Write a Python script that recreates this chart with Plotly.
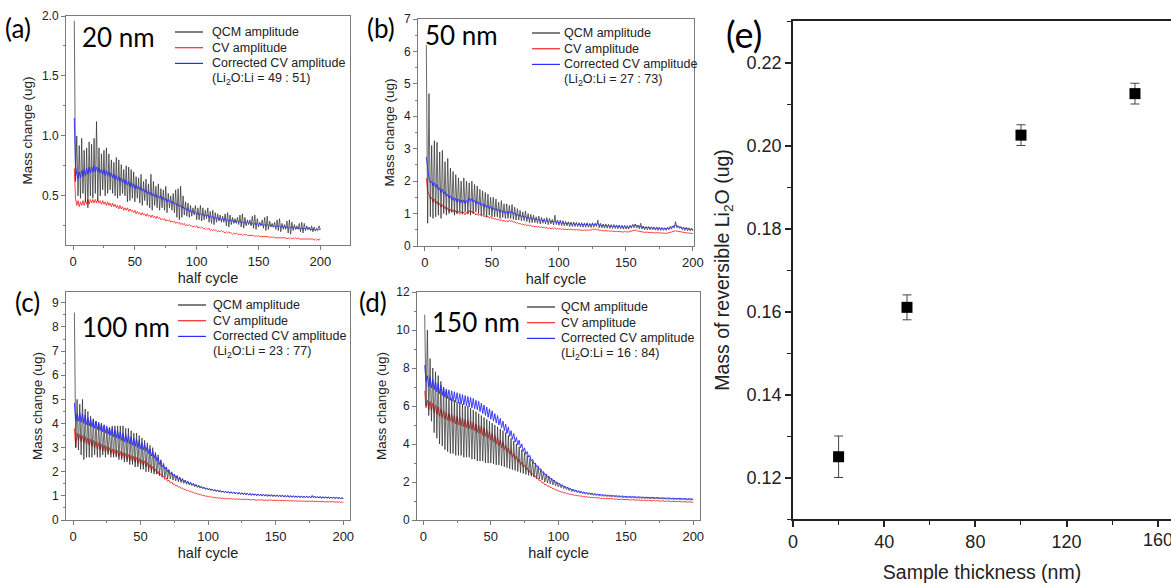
import plotly.graph_objects as go

# ---------------- data ----------------
half_cycle = list(range(1, 201))

qcm_a = [1.96,0.62,1.0,0.5,0.92,0.48,0.98,0.52,0.88,0.45,
0.9,0.4,0.95,0.5,0.93,0.48,0.98,0.52,1.12,0.46,
0.9,0.5,0.85,0.55,0.88,0.5,0.9,0.52,0.85,0.55,
0.8,0.52,0.78,0.5,0.82,0.48,0.8,0.5,0.76,0.52,
0.72,0.5,0.75,0.45,0.74,0.46,0.72,0.48,0.7,0.45,
0.66,0.48,0.65,0.44,0.68,0.42,0.62,0.46,0.64,0.42,
0.6,0.4,0.68,0.38,0.62,0.42,0.58,0.4,0.6,0.38,
0.56,0.4,0.55,0.38,0.58,0.36,0.52,0.4,0.5,0.38,
0.52,0.36,0.55,0.32,0.56,0.3,0.58,0.32,0.5,0.34,
0.45,0.33,0.44,0.32,0.42,0.33,0.4,0.34,0.42,0.3,
0.4,0.3,0.42,0.29,0.4,0.3,0.38,0.31,0.4,0.28,
0.37,0.27,0.38,0.26,0.36,0.28,0.35,0.29,0.34,0.28,
0.33,0.28,0.35,0.25,0.36,0.24,0.34,0.26,0.32,0.27,
0.31,0.27,0.32,0.26,0.34,0.24,0.35,0.23,0.32,0.25,
0.3,0.26,0.3,0.25,0.33,0.23,0.34,0.22,0.31,0.24,
0.28,0.25,0.3,0.23,0.32,0.21,0.33,0.22,0.29,0.24,
0.27,0.24,0.28,0.22,0.3,0.21,0.31,0.2,0.27,0.22,
0.26,0.22,0.29,0.19,0.3,0.18,0.28,0.21,0.26,0.22,
0.25,0.22,0.27,0.2,0.28,0.19,0.27,0.21,0.25,0.22,
0.24,0.21,0.25,0.2,0.24,0.21,0.23,0.22,0.25,0.22]

corr_a = [1.15,0.75,0.68,0.64,0.7,0.65,0.71,0.66,0.72,0.67,
0.73,0.68,0.74,0.69,0.74,0.7,0.75,0.7,0.74,0.7,
0.73,0.69,0.72,0.68,0.72,0.67,0.71,0.67,0.7,0.66,
0.69,0.65,0.68,0.64,0.67,0.63,0.66,0.62,0.65,0.61,
0.64,0.6,0.63,0.59,0.62,0.58,0.61,0.57,0.6,0.56,
0.59,0.56,0.58,0.55,0.57,0.54,0.56,0.53,0.55,0.52,
0.54,0.51,0.53,0.5,0.52,0.49,0.51,0.49,0.5,0.48,
0.5,0.47,0.49,0.46,0.48,0.45,0.47,0.45,0.46,0.44,
0.45,0.43,0.44,0.42,0.43,0.41,0.42,0.4,0.41,0.39,
0.4,0.38,0.39,0.37,0.38,0.36,0.37,0.36,0.36,0.35,
0.36,0.34,0.35,0.34,0.35,0.33,0.34,0.33,0.34,0.32,
0.33,0.32,0.33,0.31,0.32,0.31,0.32,0.3,0.31,0.3,
0.31,0.3,0.31,0.29,0.3,0.29,0.3,0.29,0.3,0.28,
0.29,0.28,0.29,0.28,0.29,0.28,0.28,0.27,0.28,0.27,
0.28,0.27,0.28,0.26,0.27,0.26,0.27,0.26,0.27,0.26,
0.27,0.26,0.26,0.25,0.26,0.25,0.26,0.25,0.26,0.25,
0.25,0.24,0.25,0.24,0.25,0.24,0.25,0.24,0.25,0.24,
0.24,0.24,0.24,0.23,0.24,0.23,0.24,0.23,0.24,0.23,
0.23,0.23,0.23,0.22,0.23,0.22,0.23,0.22,0.23,0.22,
0.23,0.22,0.22,0.22,0.22,0.21,0.22,0.21,0.22,0.22]

cv_a = [0.73,0.48,0.42,0.46,0.41,0.45,0.42,0.46,0.42,0.46,
0.43,0.47,0.43,0.47,0.44,0.47,0.44,0.47,0.44,0.47,
0.44,0.46,0.43,0.46,0.43,0.45,0.42,0.45,0.42,0.44,
0.41,0.44,0.41,0.43,0.4,0.42,0.39,0.42,0.39,0.41,
0.38,0.4,0.38,0.4,0.37,0.39,0.37,0.38,0.36,0.38,
0.35,0.37,0.35,0.36,0.34,0.36,0.34,0.35,0.33,0.35,
0.33,0.34,0.32,0.34,0.32,0.33,0.31,0.33,0.31,0.32,
0.3,0.31,0.3,0.31,0.29,0.3,0.29,0.3,0.28,0.29,
0.28,0.29,0.27,0.28,0.27,0.28,0.26,0.27,0.26,0.27,
0.25,0.26,0.25,0.26,0.25,0.25,0.24,0.25,0.24,0.25,
0.23,0.24,0.23,0.24,0.23,0.23,0.22,0.23,0.22,0.23,
0.21,0.22,0.21,0.22,0.21,0.21,0.2,0.21,0.2,0.21,
0.2,0.2,0.19,0.2,0.19,0.2,0.19,0.19,0.18,0.19,
0.18,0.19,0.18,0.18,0.18,0.18,0.17,0.18,0.17,0.18,
0.17,0.17,0.17,0.17,0.17,0.17,0.16,0.17,0.16,0.17,
0.16,0.16,0.16,0.16,0.16,0.16,0.16,0.16,0.15,0.16,
0.15,0.16,0.15,0.15,0.15,0.15,0.15,0.15,0.15,0.15,
0.15,0.15,0.14,0.15,0.14,0.15,0.14,0.15,0.14,0.15,
0.14,0.15,0.14,0.14,0.14,0.14,0.14,0.14,0.14,0.14,
0.14,0.14,0.14,0.14,0.13,0.14,0.13,0.14,0.13,0.14]

qcm_b = [6.2,0.7,4.7,0.9,3.1,0.85,3.25,0.9,3.2,0.95,
2.9,0.85,2.95,1.0,2.6,0.95,2.7,1.0,2.4,1.05,
2.3,0.95,2.2,1.0,2.1,1.05,2.0,1.0,2.1,1.05,
2.0,1.0,1.95,0.95,2.0,1.0,1.9,1.05,1.85,1.0,
1.75,0.95,1.7,0.95,1.65,0.9,1.6,0.95,1.5,0.9,
1.5,0.9,1.45,0.9,1.35,0.85,1.4,0.88,1.3,0.85,
1.3,0.85,1.25,0.85,1.28,0.82,1.2,0.8,1.15,0.8,
1.1,0.78,1.05,0.78,1.08,0.75,1.0,0.72,0.98,0.72,
0.95,0.72,0.9,0.7,0.92,0.68,0.88,0.7,0.85,0.68,
0.88,0.66,0.85,0.68,0.82,0.65,0.95,0.66,0.8,0.64,
0.8,0.63,0.78,0.62,0.76,0.62,0.75,0.6,0.74,0.6,
0.74,0.6,0.73,0.6,0.72,0.59,0.72,0.58,0.71,0.58,
0.72,0.58,0.7,0.57,0.72,0.58,0.7,0.6,0.8,0.56,
0.7,0.56,0.68,0.55,0.68,0.55,0.67,0.54,0.66,0.54,
0.66,0.54,0.65,0.53,0.65,0.53,0.64,0.52,0.64,0.52,
0.63,0.52,0.64,0.55,0.66,0.56,0.68,0.55,0.64,0.53,
0.7,0.52,0.62,0.5,0.6,0.5,0.6,0.5,0.59,0.5,
0.58,0.49,0.58,0.48,0.58,0.48,0.57,0.48,0.56,0.48,
0.58,0.5,0.6,0.52,0.62,0.55,0.75,0.56,0.62,0.54,
0.6,0.5,0.58,0.48,0.57,0.47,0.56,0.47,0.55,0.46]

corr_b = [2.75,2.4,2.1,1.95,2.0,1.85,1.95,1.8,1.9,1.72,
1.8,1.65,1.75,1.6,1.68,1.52,1.6,1.48,1.55,1.42,
1.5,1.38,1.48,1.35,1.45,1.33,1.42,1.32,1.42,1.3,
1.4,1.32,1.48,1.38,1.46,1.36,1.42,1.3,1.38,1.28,
1.35,1.25,1.3,1.2,1.28,1.18,1.25,1.15,1.22,1.12,
1.18,1.1,1.16,1.08,1.14,1.05,1.1,1.02,1.08,1.0,
1.06,0.98,1.08,1.02,1.06,0.98,1.02,0.94,0.98,0.92,
0.96,0.9,0.93,0.88,0.91,0.85,0.89,0.84,0.87,0.82,
0.86,0.81,0.84,0.8,0.83,0.78,0.82,0.77,0.8,0.76,
0.79,0.75,0.78,0.74,0.77,0.73,0.78,0.72,0.74,0.71,
0.73,0.7,0.72,0.69,0.71,0.68,0.71,0.68,0.7,0.67,
0.69,0.66,0.69,0.66,0.68,0.66,0.68,0.65,0.67,0.65,
0.67,0.64,0.66,0.64,0.67,0.65,0.68,0.66,0.7,0.64,
0.65,0.62,0.64,0.62,0.64,0.61,0.63,0.61,0.62,0.6,
0.62,0.6,0.61,0.59,0.61,0.58,0.6,0.58,0.6,0.57,
0.59,0.57,0.6,0.6,0.64,0.64,0.65,0.63,0.62,0.6,
0.6,0.57,0.58,0.56,0.58,0.56,0.57,0.55,0.57,0.55,
0.56,0.54,0.56,0.54,0.55,0.53,0.55,0.53,0.55,0.53,
0.55,0.54,0.57,0.58,0.6,0.62,0.64,0.62,0.6,0.58,
0.57,0.55,0.56,0.54,0.55,0.53,0.53,0.51,0.52,0.5]

cv_b = [2.1,1.7,1.6,1.45,1.5,1.35,1.45,1.3,1.38,1.25,
1.32,1.2,1.28,1.15,1.22,1.1,1.18,1.06,1.14,1.03,
1.12,1.02,1.1,1.0,1.08,0.98,1.06,0.98,1.05,0.96,
1.04,0.98,1.1,1.02,1.08,1.0,1.04,0.95,1.0,0.94,
0.98,0.92,0.96,0.9,0.94,0.88,0.92,0.86,0.9,0.84,
0.87,0.82,0.85,0.8,0.83,0.78,0.82,0.76,0.8,0.75,
0.78,0.74,0.8,0.76,0.78,0.73,0.75,0.7,0.72,0.68,
0.7,0.66,0.68,0.64,0.67,0.63,0.65,0.62,0.64,0.6,
0.62,0.59,0.61,0.58,0.6,0.57,0.59,0.56,0.58,0.55,
0.57,0.54,0.56,0.53,0.55,0.53,0.56,0.52,0.54,0.52,
0.53,0.51,0.53,0.51,0.52,0.5,0.52,0.5,0.52,0.5,
0.51,0.49,0.51,0.49,0.5,0.49,0.5,0.48,0.5,0.48,
0.5,0.48,0.5,0.49,0.52,0.5,0.53,0.5,0.52,0.48,
0.49,0.47,0.48,0.46,0.48,0.46,0.47,0.45,0.47,0.45,
0.46,0.44,0.46,0.44,0.45,0.44,0.45,0.43,0.45,0.43,
0.44,0.43,0.45,0.46,0.48,0.48,0.49,0.47,0.46,0.45,
0.44,0.43,0.43,0.42,0.43,0.42,0.42,0.41,0.42,0.41,
0.41,0.4,0.41,0.4,0.41,0.4,0.4,0.39,0.4,0.39,
0.4,0.4,0.42,0.43,0.45,0.46,0.47,0.46,0.45,0.44,
0.43,0.42,0.42,0.41,0.41,0.4,0.4,0.39,0.39,0.38]

qcm_c = [8.6,3.0,5.0,2.9,4.8,2.7,5.0,2.5,4.6,2.6,
4.5,2.6,4.3,2.6,4.2,2.7,4.1,2.6,4.0,2.6,
4.0,2.7,3.9,2.6,3.8,2.7,3.8,2.6,3.9,2.6,
3.9,2.6,3.9,2.5,3.9,2.5,3.9,2.4,3.8,2.4,
3.8,2.3,3.7,2.3,3.6,2.2,3.6,2.2,3.5,2.1,
3.4,2.1,3.3,2.0,3.2,2.0,3.1,1.95,3.0,1.9,
2.8,1.9,2.7,1.85,2.5,1.8,2.35,1.75,2.2,1.7,
2.1,1.7,2.0,1.65,1.9,1.62,1.85,1.58,1.78,1.55,
1.72,1.52,1.66,1.48,1.6,1.45,1.55,1.42,1.5,1.38,
1.46,1.35,1.42,1.32,1.38,1.3,1.34,1.27,1.32,1.25,
1.3,1.22,1.28,1.2,1.26,1.18,1.24,1.16,1.22,1.15,
1.2,1.13,1.19,1.12,1.18,1.1,1.17,1.1,1.16,1.08,
1.15,1.07,1.14,1.06,1.13,1.05,1.12,1.04,1.11,1.03,
1.1,1.02,1.09,1.02,1.08,1.0,1.08,1.0,1.07,0.99,
1.06,0.99,1.06,0.98,1.05,0.98,1.05,0.97,1.04,0.97,
1.04,0.96,1.03,0.96,1.03,0.95,1.02,0.95,1.02,0.94,
1.01,0.94,1.0,0.93,1.0,0.93,0.99,0.92,0.99,0.92,
0.99,0.92,0.98,0.92,0.98,0.91,1.02,0.92,0.98,0.91,
0.97,0.91,0.97,0.9,0.96,0.9,0.96,0.9,0.95,0.89,
0.95,0.89,0.94,0.89,0.94,0.88,0.93,0.88,0.93,0.87]

corr_c = [4.85,4.1,4.4,4.1,4.45,4.05,4.4,4.0,4.35,3.95,
4.25,3.9,4.2,3.85,4.15,3.8,4.1,3.75,4.05,3.7,
4.0,3.65,3.95,3.6,3.9,3.55,3.85,3.5,3.8,3.45,
3.75,3.4,3.7,3.35,3.65,3.3,3.6,3.25,3.55,3.2,
3.5,3.15,3.45,3.1,3.4,3.05,3.35,3.0,3.3,2.95,
3.2,2.9,3.15,2.85,3.05,2.75,2.95,2.65,2.85,2.55,
2.75,2.45,2.6,2.3,2.45,2.2,2.3,2.1,2.2,2.0,
2.05,1.9,1.98,1.82,1.9,1.75,1.82,1.68,1.76,1.62,
1.7,1.58,1.64,1.54,1.6,1.5,1.56,1.46,1.52,1.42,
1.48,1.38,1.44,1.35,1.4,1.32,1.36,1.29,1.33,1.26,
1.31,1.24,1.28,1.22,1.26,1.2,1.24,1.18,1.22,1.16,
1.2,1.15,1.19,1.13,1.18,1.12,1.16,1.11,1.15,1.1,
1.14,1.09,1.13,1.08,1.12,1.07,1.11,1.06,1.1,1.05,
1.09,1.04,1.08,1.04,1.07,1.03,1.07,1.02,1.06,1.02,
1.05,1.01,1.05,1.0,1.04,1.0,1.04,0.99,1.03,0.99,
1.03,0.98,1.02,0.98,1.02,0.97,1.01,0.97,1.01,0.96,
1.0,0.96,1.0,0.95,0.99,0.95,0.99,0.94,0.98,0.94,
0.98,0.94,0.98,0.94,0.97,0.93,0.99,0.95,0.97,0.93,
0.96,0.93,0.96,0.92,0.96,0.92,0.95,0.92,0.95,0.91,
0.94,0.91,0.94,0.9,0.93,0.9,0.93,0.89,0.92,0.89]

cv_c = [3.8,3.0,3.6,3.3,3.55,3.25,3.5,3.2,3.45,3.15,
3.4,3.1,3.35,3.05,3.3,3.0,3.25,2.95,3.2,2.9,
3.15,2.85,3.1,2.82,3.05,2.78,3.0,2.74,2.95,2.7,
2.92,2.66,2.88,2.62,2.84,2.58,2.8,2.54,2.76,2.5,
2.72,2.46,2.68,2.42,2.64,2.38,2.6,2.34,2.55,2.3,
2.5,2.25,2.45,2.2,2.38,2.14,2.3,2.06,2.22,2.0,
2.12,1.92,2.02,1.84,1.92,1.76,1.82,1.68,1.74,1.6,
1.66,1.53,1.58,1.47,1.5,1.41,1.44,1.36,1.38,1.31,
1.33,1.26,1.28,1.22,1.24,1.18,1.2,1.14,1.16,1.11,
1.12,1.07,1.08,1.04,1.05,1.01,1.02,0.98,1.0,0.96,
0.98,0.94,0.96,0.92,0.94,0.91,0.93,0.9,0.92,0.89,
0.91,0.88,0.9,0.87,0.89,0.87,0.89,0.86,0.88,0.86,
0.88,0.85,0.87,0.85,0.87,0.84,0.86,0.84,0.86,0.84,
0.85,0.83,0.85,0.83,0.84,0.82,0.84,0.82,0.84,0.82,
0.83,0.81,0.83,0.81,0.83,0.81,0.82,0.81,0.82,0.8,
0.82,0.8,0.82,0.8,0.81,0.8,0.81,0.79,0.81,0.79,
0.8,0.79,0.8,0.78,0.8,0.78,0.79,0.78,0.79,0.77,
0.79,0.77,0.78,0.77,0.78,0.77,0.79,0.77,0.78,0.76,
0.77,0.76,0.77,0.76,0.77,0.75,0.76,0.75,0.76,0.75,
0.76,0.74,0.76,0.74,0.75,0.74,0.75,0.73,0.75,0.73]

qcm_d = [10.8,6.0,10.0,5.5,8.5,5.2,8.0,4.6,7.8,4.3,
7.6,4.0,7.3,3.9,7.0,3.7,6.8,3.6,6.5,3.5,
6.4,3.5,6.3,3.4,6.2,3.4,6.2,3.4,6.1,3.3,
6.0,3.3,6.0,3.3,5.9,3.2,5.8,3.2,5.7,3.1,
5.6,3.1,5.5,3.1,5.4,3.0,5.3,3.0,5.2,3.0,
5.1,2.95,5.0,2.9,4.9,2.9,4.8,2.85,4.7,2.8,
4.6,2.75,4.45,2.7,4.3,2.65,4.15,2.6,4.0,2.55,
3.85,2.5,3.7,2.45,3.55,2.4,3.4,2.35,3.25,2.3,
3.1,2.25,2.95,2.2,2.8,2.15,2.65,2.1,2.5,2.0,
2.4,1.95,2.3,1.9,2.2,1.85,2.1,1.8,2.0,1.75,
1.92,1.7,1.85,1.65,1.78,1.6,1.72,1.55,1.66,1.5,
1.6,1.47,1.56,1.44,1.52,1.41,1.48,1.38,1.45,1.36,
1.42,1.34,1.4,1.32,1.38,1.3,1.36,1.29,1.34,1.27,
1.32,1.26,1.3,1.25,1.29,1.24,1.28,1.23,1.27,1.22,
1.26,1.21,1.25,1.2,1.24,1.19,1.23,1.18,1.22,1.18,
1.21,1.17,1.21,1.16,1.2,1.16,1.19,1.15,1.19,1.15,
1.18,1.14,1.18,1.14,1.17,1.13,1.17,1.13,1.16,1.12,
1.16,1.12,1.15,1.11,1.15,1.11,1.14,1.1,1.14,1.1,
1.13,1.09,1.13,1.09,1.12,1.08,1.12,1.08,1.12,1.07,
1.11,1.07,1.11,1.06,1.1,1.06,1.1,1.05,1.1,1.05]

corr_d = [8.15,7.3,7.6,7.0,7.5,6.95,7.4,6.85,7.3,6.75,
7.2,6.65,7.1,6.55,7.0,6.45,6.9,6.4,6.85,6.3,
6.8,6.25,6.75,6.2,6.7,6.15,6.65,6.1,6.6,6.05,
6.55,6.0,6.5,5.95,6.45,5.9,6.4,5.85,6.3,5.8,
6.25,5.7,6.15,5.6,6.05,5.5,5.95,5.4,5.85,5.3,
5.75,5.2,5.6,5.1,5.5,5.0,5.35,4.85,5.2,4.7,
5.05,4.55,4.9,4.4,4.7,4.25,4.55,4.1,4.35,3.95,
4.2,3.8,4.0,3.6,3.8,3.45,3.6,3.3,3.4,3.1,
3.2,2.95,3.0,2.8,2.85,2.65,2.7,2.5,2.55,2.38,
2.42,2.27,2.3,2.16,2.19,2.07,2.09,1.98,2.0,1.9,
1.92,1.83,1.84,1.76,1.77,1.7,1.71,1.64,1.66,1.59,
1.61,1.55,1.57,1.51,1.53,1.48,1.5,1.45,1.47,1.42,
1.44,1.4,1.42,1.38,1.4,1.36,1.38,1.34,1.36,1.33,
1.35,1.31,1.33,1.3,1.32,1.29,1.31,1.28,1.3,1.27,
1.29,1.26,1.28,1.25,1.27,1.24,1.26,1.24,1.26,1.23,
1.25,1.22,1.24,1.21,1.24,1.21,1.23,1.2,1.22,1.2,
1.21,1.19,1.21,1.18,1.2,1.18,1.2,1.17,1.19,1.17,
1.19,1.16,1.18,1.16,1.18,1.15,1.17,1.15,1.17,1.14,
1.16,1.14,1.16,1.13,1.15,1.13,1.15,1.12,1.14,1.12,
1.14,1.11,1.13,1.11,1.13,1.1,1.12,1.1,1.12,1.09]

cv_d = [6.8,5.9,6.3,5.8,6.25,5.75,6.15,5.65,6.05,5.55,
5.95,5.45,5.85,5.4,5.75,5.3,5.65,5.25,5.6,5.2,
5.55,5.1,5.5,5.05,5.45,5.0,5.4,4.95,5.35,4.9,
5.3,4.85,5.25,4.8,5.2,4.75,5.15,4.7,5.05,4.6,
5.0,4.55,4.95,4.45,4.85,4.4,4.75,4.3,4.65,4.2,
4.55,4.1,4.45,4.0,4.35,3.9,4.2,3.8,4.1,3.7,
3.95,3.55,3.8,3.45,3.65,3.3,3.5,3.2,3.35,3.05,
3.2,2.9,3.05,2.8,2.9,2.65,2.75,2.5,2.6,2.4,
2.45,2.28,2.32,2.16,2.2,2.05,2.08,1.95,1.97,1.85,
1.88,1.77,1.8,1.7,1.72,1.63,1.65,1.57,1.59,1.51,
1.53,1.46,1.48,1.42,1.44,1.38,1.4,1.35,1.37,1.32,
1.34,1.29,1.31,1.27,1.29,1.25,1.27,1.23,1.25,1.21,
1.23,1.19,1.21,1.18,1.2,1.17,1.19,1.16,1.18,1.15,
1.16,1.13,1.15,1.12,1.14,1.12,1.13,1.11,1.13,1.1,
1.11,1.09,1.11,1.08,1.1,1.08,1.09,1.07,1.09,1.07,
1.08,1.06,1.07,1.05,1.07,1.05,1.06,1.04,1.06,1.04,
1.05,1.03,1.05,1.03,1.04,1.02,1.04,1.02,1.03,1.01,
1.03,1.0,1.02,1.0,1.02,0.99,1.01,0.99,1.01,0.98,
1.0,0.98,1.0,0.97,0.99,0.97,0.99,0.96,0.98,0.96,
0.98,0.95,0.97,0.95,0.97,0.94,0.96,0.94,0.96,0.93]

thickness = [20, 50, 100, 150]
li2o_mass = [0.125, 0.161, 0.2025, 0.2125]
li2o_err = [0.005, 0.003, 0.0025, 0.0025]
e_last_tick = 160

panel_letters = ["(a)", "(b)", "(c)", "(d)"]
panel_thick = ["20 nm", "50 nm", "100 nm", "150 nm"]
panel_ratio = ["49 : 51", "27 : 73", "23 : 77", "16 : 84"]
legend_names = ["QCM amplitude", "CV amplitude", "Corrected CV amplitude"]

# ---------------- layout helpers ----------------
W, H = 1171, 583
def PX(p): return p / W
def PY(p): return 1 - p / H

BLACK, RED, BLUE = "#2a2a2a", "#ff2a2a", "#2b2bff"
FRAME = "#7a7a7a"
TICKFONT = "Liberation Sans"
LABELFONT = "Lato"

fig = go.Figure()

panels = [
    dict(q=qcm_a, c=cv_a, k=corr_a, xd=(66, 350), yd=(16, 245), xr=[-5.7, 224], yr=[0.09, 2.0],
         dt=0.5, mn=0.25, t0=0.5, fmt=".1f", lp=(18, 28), tp=(118, 37), lg=(175, 210, 32)),
    dict(q=qcm_b, c=cv_b, k=corr_b, xd=(418, 694), yd=(19, 246), xr=[-5.2, 200.8], yr=[0, 7],
         dt=1, mn=0.5, t0=0, fmt="d", lp=(381, 28), tp=(461, 35), lg=(532, 562, 33)),
    dict(q=qcm_c, c=cv_c, k=corr_c, xd=(66, 350), yd=(292, 520), xr=[-5.2, 205], yr=[0, 9.45],
         dt=1, mn=0.5, t0=0, fmt="d", lp=(28, 302), tp=(126, 327), lg=(178, 211, 305)),
    dict(q=qcm_d, c=cv_d, k=corr_d, xd=(417, 700), yd=(292, 520), xr=[-4.7, 205], yr=[0, 12],
         dt=2, mn=1, t0=0, fmt="d", lp=(373, 302), tp=(476, 322), lg=(527, 559, 307)),
]

annotations = []
shapes = []
for i, p in enumerate(panels):
    n = i + 1
    xa = "x" if n == 1 else f"x{n}"
    ya = "y" if n == 1 else f"y{n}"
    fig.add_trace(go.Scatter(x=half_cycle, y=p["c"], mode="lines", line=dict(color=RED, width=0.9),
                             xaxis=xa, yaxis=ya, showlegend=False, name=legend_names[1]))
    fig.add_trace(go.Scatter(x=half_cycle, y=p["q"], mode="lines", line=dict(color=BLACK, width=0.7),
                             xaxis=xa, yaxis=ya, showlegend=False, name=legend_names[0]))
    fig.add_trace(go.Scatter(x=half_cycle, y=p["k"], mode="lines", line=dict(color=BLUE, width=0.9),
                             xaxis=xa, yaxis=ya, showlegend=False, name=legend_names[2]))
    axkey = "xaxis" if n == 1 else f"xaxis{n}"
    aykey = "yaxis" if n == 1 else f"yaxis{n}"
    fig.update_layout(**{
        axkey: dict(domain=[PX(p["xd"][0]), PX(p["xd"][1])], range=p["xr"], anchor=ya, automargin=False,
                    showline=True, linecolor=FRAME, linewidth=1, mirror=True,
                    ticks="outside", ticklen=4, tickcolor=FRAME, tick0=0, dtick=50,
                    minor=dict(dtick=25, ticks="outside", ticklen=2, tickcolor=FRAME),
                    showgrid=False, zeroline=False,
                    tickfont=dict(family=TICKFONT, size=13, color="#222"),
                    title=dict(text="half cycle", font=dict(family=TICKFONT, size=14.5, color="#222"), standoff=5)),
        aykey: dict(domain=[PY(p["yd"][1]), PY(p["yd"][0])], range=p["yr"], anchor=xa, automargin=False,
                    showline=True, linecolor=FRAME, linewidth=1, mirror=True,
                    ticks="outside", ticklen=4, tickcolor=FRAME, tick0=p["t0"], dtick=p["dt"],
                    tickformat=p["fmt"],
                    minor=dict(dtick=p["mn"], ticks="outside", ticklen=2, tickcolor=FRAME),
                    showgrid=False, zeroline=False,
                    tickfont=dict(family=TICKFONT, size=12, color="#222"),
                    title=dict(text="Mass change (ug)", font=dict(family=TICKFONT, size=13.5, color="#222"), standoff=6)),
    })
    annotations.append(dict(text=panel_letters[i], x=PX(p["lp"][0]), y=PY(p["lp"][1]), xref="paper", yref="paper",
                            showarrow=False, xanchor="center", yanchor="middle",
                            font=dict(family=LABELFONT, size=26, color="#000")))
    annotations.append(dict(text=panel_thick[i], x=PX(p["tp"][0]), y=PY(p["tp"][1]), xref="paper", yref="paper",
                            showarrow=False, xanchor="center", yanchor="middle",
                            font=dict(family=LABELFONT, size=26, color="#000")))
    lx0, tx, ly = p["lg"]
    for j, (nm, col) in enumerate(zip(legend_names, [BLACK, RED, BLUE])):
        yy = ly + j * 15.7
        shapes.append(dict(type="line", xref="paper", yref="paper", x0=PX(lx0), x1=PX(lx0 + 28),
                           y0=PY(yy), y1=PY(yy), line=dict(color=col, width=1.2)))
        annotations.append(dict(text=nm, x=PX(tx), y=PY(yy), xref="paper", yref="paper", showarrow=False,
                                xanchor="left", yanchor="middle",
                                font=dict(family=TICKFONT, size=12.5, color="#222")))
    annotations.append(dict(text="(Li<sub>2</sub>O:Li = " + panel_ratio[i] + ")", x=PX(tx), y=PY(ly + 3 * 15.7),
                            xref="paper", yref="paper", showarrow=False, xanchor="left", yanchor="middle",
                            font=dict(family=TICKFONT, size=12.5, color="#222")))

# panel (e)
fig.add_trace(go.Scatter(x=thickness, y=li2o_mass, mode="markers", xaxis="x5", yaxis="y5", showlegend=False,
                         marker=dict(symbol="square", size=11, color="#000"),
                         error_y=dict(type="data", array=li2o_err, visible=True, color="#444",
                                      thickness=1, width=4.5)))
fig.update_layout(
    xaxis5=dict(domain=[PX(793), 1.0], range=[0, 165.8], anchor="y5", automargin=False,
                showline=True, linecolor="#222", linewidth=1.5, mirror=True,
                ticks="outside", ticklen=6, tickwidth=1.5, tickcolor="#222", tick0=0, dtick=40,
                minor=dict(dtick=20, ticks="outside", ticklen=4, tickwidth=1.2, tickcolor="#222"),
                showgrid=False, zeroline=False,
                tickfont=dict(family=TICKFONT, size=18, color="#222"),
                title=dict(text="Sample thickness (nm)", font=dict(family=TICKFONT, size=19.5, color="#222"), standoff=15)),
    yaxis5=dict(domain=[PY(519), PY(21)], range=[0.11, 0.23], anchor="x5", automargin=False,
                showline=True, linecolor="#222", linewidth=1.5, mirror=False,
                ticks="outside", ticklen=6, tickwidth=1.5, tickcolor="#222", tick0=0.12, dtick=0.02,
                tickformat=".2f",
                minor=dict(dtick=0.01, ticks="outside", ticklen=4, tickwidth=1.2, tickcolor="#222"),
                showgrid=False, zeroline=False,
                tickfont=dict(family=TICKFONT, size=18, color="#222"),
                title=dict(text="Mass of reversible Li<sub>2</sub>O (ug)",
                           font=dict(family=TICKFONT, size=19.5, color="#222"), standoff=12)),
)
# the last x tick label of (e) runs off the right edge of the figure (cropped in the reference)
annotations.append(dict(text=str(e_last_tick), x=e_last_tick, xref="x5", y=PY(519 + 9), yref="paper",
                        showarrow=False, xanchor="center", yanchor="top",
                        font=dict(family=TICKFONT, size=18, color="#222")))
annotations.append(dict(text="(e)", x=PX(744), y=PY(34), xref="paper", yref="paper", showarrow=False,
                        xanchor="center", yanchor="middle", font=dict(family=LABELFONT, size=36, color="#000")))

fig.update_layout(template="none", width=W, height=H, margin=dict(l=0, r=0, t=0, b=0, pad=0),
                  paper_bgcolor="white", plot_bgcolor="white",
                  annotations=annotations, shapes=shapes, showlegend=False)

fig.write_html("out.html", config={"displayModeBar": False},
               post_script="document.body.style.margin='0';document.body.style.overflow='hidden';")
